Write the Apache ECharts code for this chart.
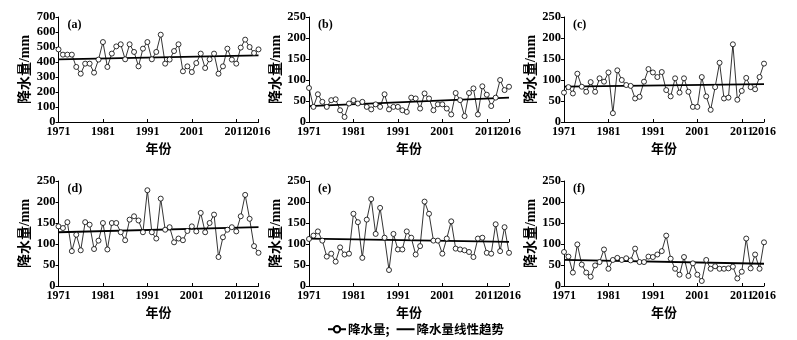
<!DOCTYPE html>
<html><head><meta charset="utf-8">
<script src="https://cdn.jsdelivr.net/npm/echarts@6/dist/echarts.min.js"></script>
<style>html,body{margin:0;padding:0;background:#fff}#c{width:797px;height:340px}</style>
</head><body><div id="c"></div>
<script>
const years = ['1971','1972','1973','1974','1975','1976','1977','1978','1979','1980',
  '1981','1982','1983','1984','1985','1986','1987','1988','1989','1990',
  '1991','1992','1993','1994','1995','1996','1997','1998','1999','2000',
  '2001','2002','2003','2004','2005','2006','2007','2008','2009','2010',
  '2011','2012','2013','2014','2015','2016'];
const shownYears = ['1971','1981','1991','2001','2011','2016'];
const trendYears = ['1971','2016'];
const panelLabels = ['(a)','(b)','(c)','(d)','(e)','(f)'];
const yMaxes = [700, 250, 250, 250, 250, 250];
const ySteps = [100, 50, 50, 50, 50, 50];

const precipA = [484,449,449,449,367,322,389,389,329,416,533,367,456,504,518,418,518,467,371,489,
  533,418,467,582,389,416,473,518,338,371,333,393,456,360,418,456,322,371,489,416,389,496,549,500,460,484];
const precipB = [81,36,66,48,36,52,54,28,12,44,52,44,48,36,30,42,36,66,30,36,
  36,28,24,58,56,32,68,56,28,42,42,32,18,69,52,14,69,80,18,85,65,38,58,100,76,84];
const precipC = [70,83,68,115,84,72,95,72,104,96,118,21,123,100,88,86,56,60,96,126,
  118,107,119,76,61,104,70,104,72,36,36,107,61,29,83,141,56,58,185,53,74,105,83,78,107,139];
const precipD = [142,138,152,83,122,85,152,146,88,108,150,87,150,150,128,109,158,166,156,128,
  228,128,113,208,134,140,104,113,109,131,142,130,174,128,150,170,69,116,134,140,130,166,217,160,95,79];
const precipE = [112,120,130,108,70,77,58,92,75,77,172,152,67,158,207,124,186,115,38,124,
  87,87,130,115,75,95,201,172,108,108,77,113,154,89,87,85,81,69,113,115,79,77,147,83,140,79];
const precipF = [81,70,32,99,51,32,22,49,57,87,41,62,67,62,66,61,89,57,57,70,
  69,75,83,120,65,41,27,69,24,54,27,12,62,41,47,41,41,42,46,18,34,113,42,75,41,104];

const trendA = [418, 444];
const trendB = [38, 58];
const trendC = [84, 90];
const trendD = [128, 140];
const trendE = [113, 105];
const trendF = [62, 53];

const seriesData = [precipA, precipB, precipC, precipD, precipE, precipF];
const trendData = [trendA, trendB, trendC, trendD, trendE, trendF];

const gridLefts = [58.5, 309, 564];
const gridTops = [17, 181];
const gridW = 200, gridH = 105;

const serif = 'Liberation Serif';
const cjk = '"Liberation Serif", "Noto Sans CJK SC"';
const showFn = (idx, val) => shownYears.indexOf(val) >= 0;

const grids = [], xAxes = [], yAxes = [], series = [], titles = [];
for (let i = 0; i < 6; i++) {
  const col = i % 3, row = Math.floor(i / 3);
  grids.push({left: gridLefts[col], top: gridTops[row], width: gridW, height: gridH, containLabel: false});
  xAxes.push({
    type: 'category', gridIndex: i, data: years, boundaryGap: false,
    axisLine: {lineStyle: {color: '#000', width: 1}},
    axisTick: {inside: true, length: 3, interval: showFn, lineStyle: {color: '#000'}},
    axisLabel: {interval: 0, hideOverlap: false,
      formatter: (val) => shownYears.indexOf(val) >= 0 ? val : '',
      color: '#000', fontFamily: serif, fontWeight: 'bold', fontSize: 12, margin: 4},
    name: '年份', nameLocation: 'middle', nameGap: 20,
    nameTextStyle: {color: '#000', fontFamily: '"Noto Sans CJK SC"', fontWeight: 'bold', fontSize: 13}
  });
  yAxes.push({
    type: 'value', gridIndex: i, min: 0, max: yMaxes[i], interval: ySteps[i],
    axisLine: {show: true, lineStyle: {color: '#000', width: 1}},
    axisTick: {show: true, length: 3, lineStyle: {color: '#000'}},
    splitLine: {show: false},
    axisLabel: {color: '#000', fontFamily: serif, fontWeight: 'bold', fontSize: 12.5, margin: 3},
    name: '降水量/mm', nameLocation: 'middle', nameRotate: 90, nameGap: 21,
    nameTextStyle: {color: '#000', fontFamily: cjk, fontWeight: 'bold', fontSize: 14}
  });
  series.push({
    name: '降水量;', type: 'line', xAxisIndex: i, yAxisIndex: i, data: seriesData[i],
    symbol: 'circle', symbolSize: 5, showAllSymbol: true,
    itemStyle: {color: '#fff', borderColor: '#000', borderWidth: 0.8},
    lineStyle: {color: '#000', width: 0.8}, z: 3
  });
  series.push({
    name: '降水量线性趋势', type: 'line', xAxisIndex: i, yAxisIndex: i,
    data: trendYears.map((y, k) => [y, trendData[i][k]]),
    symbol: 'none', lineStyle: {color: '#000', width: 1.8}, itemStyle: {color: '#000'}, z: 2
  });
  titles.push({
    text: panelLabels[i], left: gridLefts[col] + 4, top: gridTops[row] - 3,
    textStyle: {color: '#000', fontFamily: serif, fontWeight: 'bold', fontSize: 12}
  });
}

const chart = echarts.init(document.getElementById('c'), null, {renderer: 'canvas'});
chart.setOption({
  animation: false,
  backgroundColor: '#fff',
  title: titles,
  grid: grids, xAxis: xAxes, yAxis: yAxes, series: series,
  legend: {
    data: [
      {name: '降水量;'},
      {name: '降水量线性趋势', itemStyle: {opacity: 0, borderWidth: 0}}
    ],
    left: 322, top: 318, itemWidth: 18, itemHeight: 8, itemGap: 6,
    textStyle: {color: '#000', fontFamily: '"Noto Sans CJK SC"', fontWeight: 'bold', fontSize: 12.5, padding: [0,0,0,-3]}
  }
});
</script></body></html>
